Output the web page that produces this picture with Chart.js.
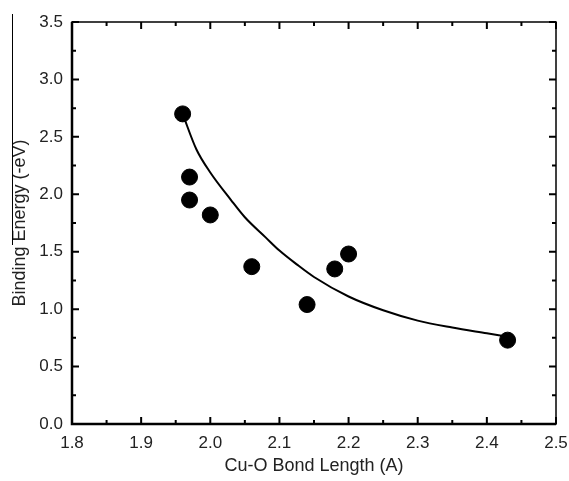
<!DOCTYPE html>
<html>
<head>
<meta charset="utf-8">
<script src="https://cdn.jsdelivr.net/npm/chart.js@4"></script>
<style>
  html, body { margin: 0; padding: 0; background: #fff; }
  #wrap { width: 569px; height: 481px; position: relative; }
</style>
</head>
<body>
<div id="wrap"><canvas id="chart" width="569" height="481"></canvas></div>
<script>
// measured points
const bondLength = [1.96, 1.97, 1.97, 2.00, 2.06, 2.14, 2.18, 2.20, 2.43];
const bindingEnergy = [2.70, 2.15, 1.95, 1.82, 1.37, 1.04, 1.35, 1.48, 0.73];

// fitted curve
const fitX = [1.96, 1.98, 2.00, 2.03, 2.05, 2.08, 2.10, 2.125, 2.15, 2.20, 2.25, 2.30, 2.35, 2.40, 2.43];
const fitY = [2.70, 2.39, 2.19, 1.95, 1.80, 1.625, 1.51, 1.39, 1.28, 1.11, 0.99, 0.90, 0.84, 0.79, 0.76];

const xTicks = [1.8, 1.9, 2.0, 2.1, 2.2, 2.3, 2.4, 2.5];
const yTicks = [0.0, 0.5, 1.0, 1.5, 2.0, 2.5, 3.0, 3.5];

const txt = "#222";
const font = "'Liberation Sans', Arial, sans-serif";

// frame + inward ticks like the original plot
const frameTicks = {
  id: "frameTicks",
  afterDraw(c) {
    const { ctx, chartArea: a, scales: { x, y } } = c;
    ctx.save();
    ctx.strokeStyle = "#000";
    ctx.lineWidth = 1.5;
    ctx.strokeRect(a.left, a.top, a.right - a.left, a.bottom - a.top);
    ctx.lineWidth = 2.5;
    ctx.beginPath();
    ctx.moveTo(a.left, a.top); ctx.lineTo(a.left, a.bottom); ctx.lineTo(a.right, a.bottom);
    ctx.stroke();
    ctx.lineWidth = 2;
    ctx.beginPath();
    for (let i = 0; i < xTicks.length; i++) {
      const v = xTicks[i];
      let px = x.getPixelForValue(v);
      ctx.moveTo(px, a.bottom); ctx.lineTo(px, a.bottom - 7);
      ctx.moveTo(px, a.top); ctx.lineTo(px, a.top + 7);
      if (i < xTicks.length - 1) {
        px = x.getPixelForValue(v + 0.05);
        ctx.moveTo(px, a.bottom); ctx.lineTo(px, a.bottom - 4);
        ctx.moveTo(px, a.top); ctx.lineTo(px, a.top + 4);
      }
    }
    for (let i = 0; i < yTicks.length; i++) {
      const v = yTicks[i];
      let py = y.getPixelForValue(v);
      ctx.moveTo(a.left, py); ctx.lineTo(a.left + 7, py);
      ctx.moveTo(a.right, py); ctx.lineTo(a.right - 7, py);
      if (i < yTicks.length - 1) {
        py = y.getPixelForValue(v + 0.25);
        ctx.moveTo(a.left, py); ctx.lineTo(a.left + 4, py);
        ctx.moveTo(a.right, py); ctx.lineTo(a.right - 4, py);
      }
    }
    ctx.stroke();
    // stray crop line at the left edge of the scan
    ctx.lineWidth = 1;
    ctx.beginPath();
    ctx.moveTo(12.5, 14); ctx.lineTo(12.5, 245);
    ctx.stroke();
    ctx.restore();
  }
};

new Chart(document.getElementById("chart"), {
  type: "scatter",
  data: {
    datasets: [
      {
        data: fitX.map((v, i) => ({ x: v, y: fitY[i] })),
        showLine: true,
        borderColor: "#000",
        borderWidth: 2,
        pointRadius: 0,
        cubicInterpolationMode: "monotone",
        order: 2
      },
      {
        data: bondLength.map((v, i) => ({ x: v, y: bindingEnergy[i] })),
        backgroundColor: "#000",
        borderColor: "#000",
        pointRadius: 8,
        order: 1
      }
    ]
  },
  options: {
    responsive: false,
    animation: false,
    devicePixelRatio: 1,
    layout: { padding: { top: 22, right: 13, left: 0, bottom: 0 } },
    plugins: { legend: { display: false }, tooltip: { enabled: false } },
    scales: {
      x: {
        type: "linear",
        min: 1.8, max: 2.5,
        afterBuildTicks: s => { s.ticks = xTicks.map(v => ({ value: v })); },
        afterFit: s => { s.height = 57; s.paddingLeft = 0; s.paddingRight = 0; },
        grid: { display: false, drawTicks: false },
        border: { display: false },
        ticks: { color: txt, font: { family: font, size: 17 }, padding: 9, maxRotation: 0,
                 callback: v => v.toFixed(1) },
        title: { display: true, text: "Cu-O Bond Length (A)", color: txt,
                 font: { family: font, size: 18 }, padding: { top: 4 } }
      },
      y: {
        type: "linear",
        min: 0, max: 3.5,
        afterBuildTicks: s => { s.ticks = yTicks.map(v => ({ value: v })); },
        afterFit: s => { s.width = 72; s.paddingTop = 0; s.paddingBottom = 0; },
        grid: { display: false, drawTicks: false },
        border: { display: false },
        ticks: { color: txt, font: { family: font, size: 17 }, padding: 9,
                 callback: v => v.toFixed(1) },
        title: { display: true, text: "Binding Energy (-eV)", color: txt,
                 font: { family: font, size: 18 }, padding: { top: 9 } }
      }
    }
  },
  plugins: [frameTicks]
});
</script>
</body>
</html>
